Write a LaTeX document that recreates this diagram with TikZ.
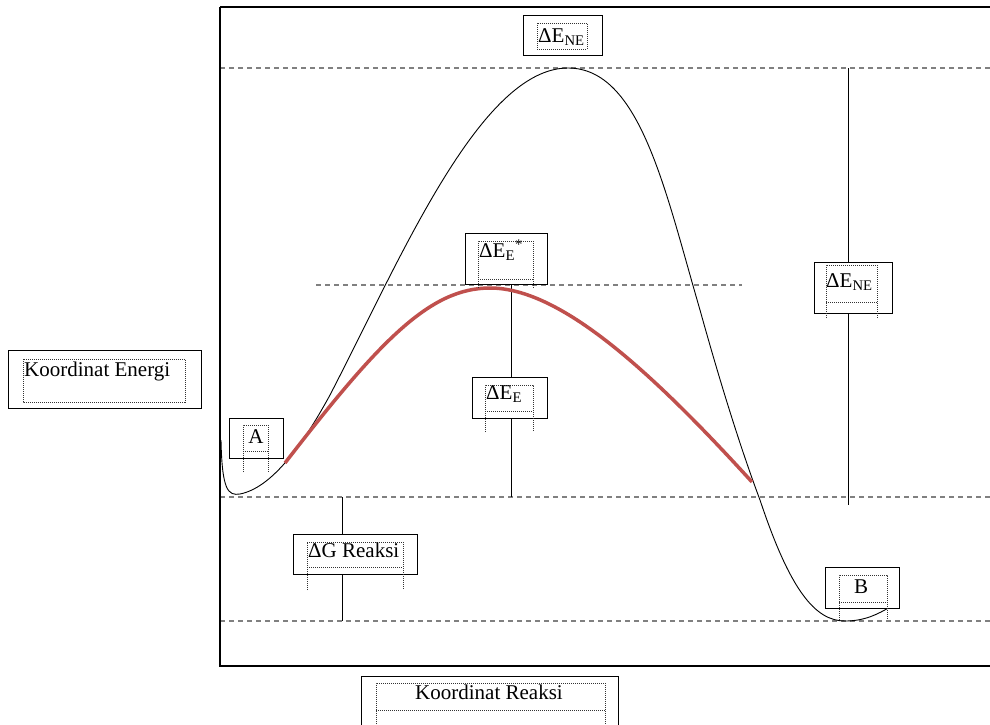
\documentclass[tikz,border=0pt]{standalone}
\usepackage{fontspec}
\setmainfont{Liberation Serif}
\definecolor{merah}{RGB}{192,80,77}
\tikzset{
  kotak/.style={draw, fill=white, line width=1.3pt, anchor=north west, inner sep=0pt},
  bingkai/.style={draw=black!80, line width=1pt, dash pattern=on 1pt off 1pt},
  teks/.style={anchor=base west, inner sep=0pt, font=\fontsize{21}{25}\selectfont},
  level/.style={draw=gray, line width=1.5pt, dash pattern=on 5pt off 4pt},
}
\begin{document}
\begin{tikzpicture}[x=1pt, y=-1pt]
    \clip (0,0) rectangle (990,724);
    \fill[white] (0,0) rectangle (990,724);
    % energy levels
    \foreach \y in {68,497,621}
        \draw[level] (220,\y) -- (990,\y);
    \draw[level] (316,285) -- (742,285);
    % axes frame
    \draw[line width=1.8pt] (220,7) -- (990,7);
    \draw[line width=1.4pt] (220,7) -- (220,666) -- (990,666);
    % end points of the vertical markers
    \coordinate (g-top) at (342,497);
    \coordinate (g-bot) at (342,621);
    \coordinate (e-top) at (511,285);
    \coordinate (e-bot) at (511,497);
    \coordinate (ne-top) at (848,68);
    \coordinate (ne-bot) at (848,505);
    \draw[line width=0.9pt] (g-top) -- (g-bot);
    \draw[line width=0.9pt] (e-top) -- (e-bot);
    \draw[line width=0.9pt] (ne-top) -- (ne-bot);
    % uncatalysed path
    \draw[line width=0.9pt] (221,440) .. controls (222,490) and (228,496) .. (240,494)
        .. controls (270,488) and (300,450) .. (330,395)
        .. controls (400,260) and (480,68) .. (568,68)
        .. controls (640,68) and (665,190) .. (700,310)
        .. controls (725,400) and (745,460) .. (760,500)
        .. controls (790,590) and (815,621) .. (845,621)
        .. controls (865,621) and (878,614) .. (890,607);
    % catalysed path
    \draw[merah, line width=3.5pt] (285,463) .. controls (380,340) and (430,288) .. (490,288)
        .. controls (560,288) and (650,370) .. (752,482);
    % labels
    \node[kotak, minimum width=79pt, minimum height=40pt] (b-ne1) at (523,15) {};
    \draw[bingkai] (537,23) rectangle (587,49);
    \node[teks] (t-ne1) at (538,42) {ΔE\textsubscript{NE}};
    \node[kotak, minimum width=82pt, minimum height=51pt] (b-es) at (465,233) {};
    \draw[bingkai] (478,288) -- (478,241) -- (533,241) -- (533,288) (478,279) -- (533,279);
    \node[teks] (t-es) at (479,257) {ΔE\textsubscript{E}\textsuperscript{*}};
    \node[kotak, minimum width=78pt, minimum height=51pt] (b-ne2) at (814,262) {};
    \draw[bingkai] (826,318) -- (826,265) -- (877,265) -- (877,318) (826,302) -- (877,302);
    \node[teks] (t-ne2) at (826,287) {ΔE\textsubscript{NE}};
    \node[kotak, minimum width=193pt, minimum height=58pt] (b-energi) at (8,350) {};
    \draw[bingkai] (23,359) rectangle (185,402);
    \node[teks] (t-energi) at (24,376) {Koordinat Energi};
    \node[kotak, minimum width=54pt, minimum height=40pt] (b-a) at (229,418) {};
    \draw[bingkai] (243,472) -- (243,425) -- (268,425) -- (268,472) (243,451) -- (268,451);
    \node[teks, anchor=base] (t-a) at (256,443) {A};
    \node[kotak, minimum width=75pt, minimum height=41pt] (b-e) at (472,377) {};
    \draw[bingkai] (485,432) -- (485,385) -- (533,385) -- (533,432) (485,411) -- (533,411);
    \node[teks] (t-e) at (486,399) {ΔE\textsubscript{E}};
    \node[kotak, minimum width=124pt, minimum height=40pt] (b-g) at (293,534) {};
    \draw[bingkai] (307,590) -- (307,542) -- (403,542) -- (403,590) (307,567) -- (403,567);
    \node[teks] (t-g) at (308,557) {ΔG Reaksi};
    \node[kotak, minimum width=74pt, minimum height=41pt] (b-b) at (825,567) {};
    \draw[bingkai] (839,620) -- (839,575) -- (887,575) -- (887,620) (839,602) -- (887,602);
    \node[teks, anchor=base] (t-b) at (861,593) {B};
    \node[kotak, minimum width=257pt, minimum height=60pt] (b-reaksi) at (361,676) {};
    \draw[bingkai] (376,730) -- (376,683) -- (605,683) -- (605,730) (376,710) -- (605,710);
    \node[teks, anchor=base] (t-reaksi) at (489,699) {Koordinat Reaksi};
\end{tikzpicture}
\end{document}
